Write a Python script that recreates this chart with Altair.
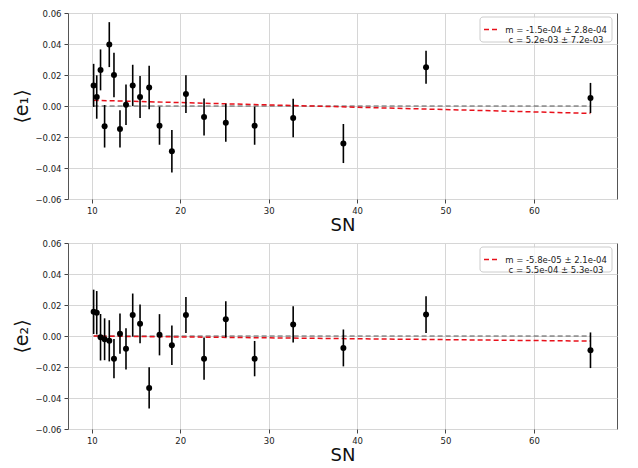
import altair as alt
import pandas as pd

sn = [10.2, 10.55, 10.98, 11.44, 11.97, 12.5, 13.18, 13.86, 14.62, 15.45, 16.48,
      17.65, 19.05, 20.64, 22.69, 25.15, 28.41, 32.77, 38.45, 47.8, 66.4]
e1 = [0.0133, 0.0058, 0.0233, -0.0131, 0.0396, 0.0200, -0.0148, 0.0008, 0.0133, 0.0058, 0.0119,
      -0.0127, -0.0292, 0.0077, -0.0071, -0.0108, -0.0127, -0.0077, -0.0242, 0.0250, 0.0052]
e1_err = [0.0139, 0.0140, 0.0132, 0.0137, 0.0145, 0.0144, 0.0120, 0.0130, 0.0133, 0.0135, 0.0140,
          0.0123, 0.0137, 0.0122, 0.0120, 0.0123, 0.0123, 0.0124, 0.0126, 0.0107, 0.0097]
e2 = [0.0156, 0.0150, -0.0008, -0.0021, -0.0031, -0.0146, 0.0015, -0.0083, 0.0135, 0.0079, -0.0335,
      0.0008, -0.0060, 0.0135, -0.0146, 0.0108, -0.0146, 0.0075, -0.0077, 0.0138, -0.0092]
e2_err = [0.0143, 0.0140, 0.0150, 0.0135, 0.0133, 0.0126, 0.0130, 0.0133, 0.0139, 0.0125, 0.0133,
          0.0133, 0.0127, 0.0116, 0.0137, 0.0116, 0.0114, 0.0117, 0.0119, 0.0118, 0.0115]

fit1 = {"m": -1.5e-04, "dm": 2.8e-04, "c": 5.2e-03, "dc": 7.2e-03}
fit2 = {"m": -5.8e-05, "dm": 2.1e-04, "c": 5.5e-04, "dc": 5.3e-03}

x_ticks = [10, 20, 30, 40, 50, 60]
y_ticks = [-0.06, -0.04, -0.02, 0.0, 0.02, 0.04, 0.06]

W, H = 549, 186
FONT = "DejaVu Sans"

xscale = alt.Scale(domain=[7.3, 69.4], nice=False, zero=False)
yscale = alt.Scale(domain=[-0.06, 0.06], nice=False)


def panel(vals, errs, fit, title):
    df = pd.DataFrame({"sn": sn, "v": vals, "lo": [v - e for v, e in zip(vals, errs)],
                       "hi": [v + e for v, e in zip(vals, errs)]})
    xmin, xmax = min(sn), max(sn)
    fit_df = pd.DataFrame({"sn": [xmin, xmax], "v": [fit["m"] * xmin + fit["c"], fit["m"] * xmax + fit["c"]]})
    zero_df = pd.DataFrame({"sn": [xmin, xmax], "v": [0.0, 0.0]})
    one = pd.DataFrame({"a": [0]})

    xaxis = alt.Axis(values=x_ticks, format="d", titleFontSize=18, titleFontWeight="normal",
                     titlePadding=2, labelOverlap=False, tickCount=6)
    yaxis = alt.Axis(values=y_ticks, format=".2f", titleFontSize=19, titleFontWeight="normal",
                     titlePadding=3, labelOverlap=False, labelBound=False, tickCount=7)
    xax = alt.X("sn:Q", scale=xscale, title="SN", axis=xaxis)
    yax = alt.Y("v:Q", scale=yscale, title=title, axis=yaxis)

    pts = alt.Chart(df).mark_circle(color="black", opacity=1, size=36).encode(x=xax, y=yax)
    zero = alt.Chart(zero_df).mark_line(color="#555555", strokeDash=[5, 3], strokeWidth=1).encode(x=xax, y=yax)
    fitl = alt.Chart(fit_df).mark_line(color="#e8101a", strokeDash=[5, 3], strokeWidth=1.5).encode(x=xax, y=yax)
    bars = alt.Chart(df).mark_rule(color="black", strokeWidth=1.6).encode(
        x=xax, y=alt.Y("lo:Q", scale=yscale, title=title, axis=yaxis), y2="hi:Q")

    box = alt.Chart(one).mark_rect(fill="white", fillOpacity=0.8, stroke="#cccccc", strokeWidth=1,
                                   cornerRadius=3).encode(
        x=alt.value(412), x2=alt.value(544), y=alt.value(4), y2=alt.value(29))
    sym = alt.Chart(one).mark_rule(color="#e8101a", strokeDash=[5, 3], strokeWidth=1.5).encode(
        x=alt.value(416), x2=alt.value(432), y=alt.value(16.5))
    lines = [f"m = {fit['m']:.1e} ± {fit['dm']:.1e}", f"c = {fit['c']:.1e} ± {fit['dc']:.1e}"]
    txt = alt.Chart(one).mark_text(text=lines, font=FONT, fontSize=8.5, color="#222222", align="center",
                                   baseline="middle", lineHeight=10).encode(
        x=alt.value(488), y=alt.value(16.5))

    return alt.layer(zero, fitl, bars, pts, box, sym, txt).properties(width=W, height=H)


chart = alt.vconcat(panel(e1, e1_err, fit1, "⟨e₁⟩"), panel(e2, e2_err, fit2, "⟨e₂⟩"), spacing=3).properties(
    padding={"left": 4, "top": 0, "right": 0, "bottom": 0}
).configure_view(stroke="#555555", strokeWidth=1).configure_axis(
    grid=True, gridColor="#d6d6d6", gridWidth=1, domain=False, tickColor="#444444", tickSize=4,
    labelFont=FONT, titleFont=FONT, labelFontSize=8.5, labelColor="#222222", titleColor="#111111",
    labelPadding=3, labelOverlap=False
)

chart.save("out.html", embed_options={"renderer": "svg", "actions": False})
